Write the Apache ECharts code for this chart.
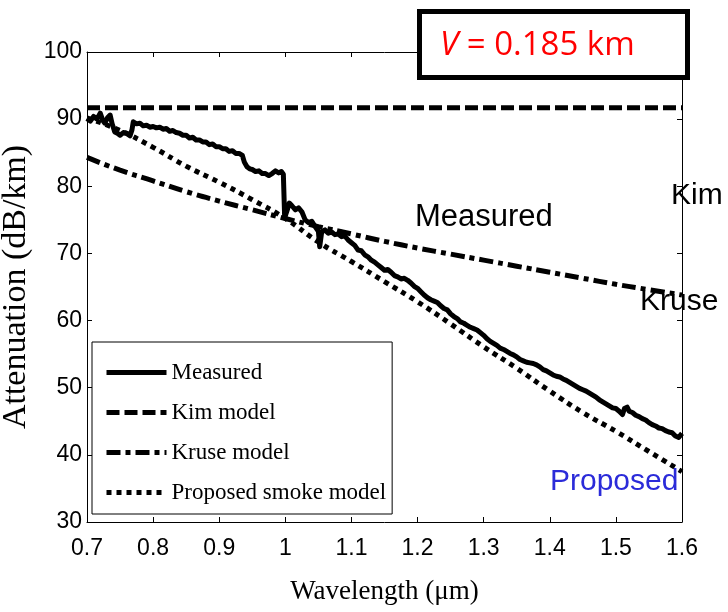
<!DOCTYPE html>
<html>
<head>
<meta charset="utf-8">
<script src="https://cdn.jsdelivr.net/npm/echarts@6/dist/echarts.min.js"></script>
<style>html,body{margin:0;padding:0;background:#fff}#c{width:728px;height:612px}</style>
</head>
<body>
<div id="c"></div>
<script>
// ---- data ----
const xTicks = [0.7, 0.8, 0.9, 1.0, 1.1, 1.2, 1.3, 1.4, 1.5, 1.6];
const yTicks = [30, 40, 50, 60, 70, 80, 90, 100];
const seriesNames = ['Measured', 'Kim model', 'Kruse model', 'Proposed smoke model'];

const measured = [
[0.700,90.1],[0.705,89.7],[0.710,90.4],[0.715,90.0],[0.720,90.9],[0.724,89.8],[0.727,89.4],[0.731,90.2],[0.735,90.6],[0.738,89.3],
[0.742,88.1],[0.746,87.9],[0.750,87.6],[0.755,88.0],[0.760,87.9],[0.765,87.5],[0.768,88.4],[0.770,89.6],[0.775,89.3],[0.780,89.4],
[0.785,89.0],[0.790,89.1],[0.795,88.8],[0.800,88.9],[0.805,88.7],[0.810,88.8],[0.815,88.5],[0.820,88.6],[0.825,88.2],[0.830,88.3],
[0.835,88.0],[0.840,87.9],[0.845,87.6],[0.850,87.6],[0.855,87.2],[0.860,87.3],[0.865,86.9],[0.870,86.9],[0.875,86.6],[0.880,86.6],
[0.885,86.2],[0.890,86.3],[0.895,85.9],[0.900,85.9],[0.905,85.6],[0.910,85.6],[0.915,85.2],[0.920,85.3],[0.925,84.9],[0.930,84.9],
[0.935,84.6],[0.938,83.6],[0.942,82.9],[0.946,82.6],[0.950,82.5],[0.955,82.2],[0.960,82.3],[0.965,81.9],[0.970,81.9],[0.975,81.6],
[0.980,81.9],[0.985,82.3],[0.990,82.0],[0.994,82.2],[0.997,81.8],[0.999,75.3],[1.003,76.5],[1.006,77.5],[1.010,77.1],[1.015,76.5],
[1.020,76.8],[1.025,76.2],[1.030,75.0],[1.035,74.6],[1.040,74.8],[1.045,74.0],[1.050,73.3],[1.052,71.0],[1.055,73.2],[1.060,73.5],
[1.065,73.0],[1.070,73.2],[1.075,72.8],[1.080,72.9],[1.085,72.5],[1.090,72.6],[1.095,72.0],[1.100,71.6],[1.105,71.2],[1.110,70.5],
[1.115,70.4],[1.120,69.8],[1.125,69.5],[1.130,69.0],[1.135,68.7],[1.140,68.3],[1.145,67.9],[1.150,67.5],[1.155,67.6],[1.160,67.2],
[1.165,66.7],[1.170,66.5],[1.175,66.2],[1.180,66.3],[1.185,66.0],[1.190,65.6],[1.195,65.1],[1.200,64.8],[1.205,64.3],[1.210,63.8],
[1.215,63.4],[1.220,63.1],[1.225,62.9],[1.230,62.7],[1.235,62.2],[1.240,61.8],[1.245,61.6],[1.250,61.0],[1.255,60.6],[1.260,60.3],
[1.265,59.8],[1.270,59.6],[1.275,59.3],[1.280,59.0],[1.285,58.8],[1.290,58.6],[1.295,58.2],[1.300,57.8],[1.305,57.3],[1.310,56.9],
[1.315,56.6],[1.320,56.3],[1.325,55.9],[1.330,55.7],[1.335,55.4],[1.340,55.1],[1.345,54.9],[1.350,54.6],[1.355,54.2],[1.360,54.0],
[1.365,53.8],[1.370,53.7],[1.375,53.6],[1.380,53.4],[1.385,53.1],[1.390,52.7],[1.395,52.5],[1.400,52.2],[1.405,51.9],[1.410,51.7],
[1.415,51.6],[1.420,51.3],[1.425,51.1],[1.430,50.8],[1.435,50.5],[1.440,50.2],[1.445,49.9],[1.450,49.7],[1.455,49.5],[1.460,49.2],
[1.465,48.9],[1.470,48.6],[1.475,48.2],[1.480,47.9],[1.485,47.6],[1.490,47.3],[1.495,47.0],[1.500,46.9],[1.505,46.5],[1.510,46.0],
[1.513,46.9],[1.517,47.1],[1.520,46.5],[1.525,46.3],[1.530,45.9],[1.535,45.7],[1.540,45.4],[1.545,45.2],[1.550,44.8],[1.555,44.5],
[1.560,44.3],[1.565,44.0],[1.570,43.9],[1.575,43.6],[1.580,43.4],[1.585,43.3],[1.590,42.8],[1.595,42.6],[1.600,43.2]
];
const kim = [[0.7, 91.7], [1.6, 91.7]];
const kruse = [
[0.70,84.3],[0.75,82.4],[0.80,80.8],[0.85,79.2],[0.90,77.8],[0.95,76.5],[1.00,75.2],[1.05,74.0],[1.10,72.9],[1.15,71.8],
[1.20,70.8],[1.25,69.9],[1.30,69.0],[1.35,68.1],[1.40,67.2],[1.45,66.3],[1.50,65.4],[1.55,64.6],[1.60,63.8]
];
const proposed = [
[0.70,90.2],[0.75,88.3],[0.80,85.8],[0.85,83.0],[0.90,80.6],[0.95,78.0],[1.00,75.2],[1.05,71.7],[1.10,68.8],[1.15,65.8],
[1.20,62.8],[1.25,59.5],[1.30,56.1],[1.35,52.9],[1.40,49.5],[1.45,46.3],[1.50,43.5],[1.55,40.5],[1.60,37.5]
];

const chart = echarts.init(document.getElementById('c'), null, {renderer: 'canvas'});
const tickFont = "'Liberation Sans Narrow','Arial Narrow','Liberation Sans',sans-serif";
const serif = "'Liberation Serif','Times New Roman',serif";
const sans = "'Liberation Sans',Arial,sans-serif";

function xAxisBase(pos, showLabel) {
  return {
    type: 'value', position: pos, min: xTicks[0], max: xTicks[xTicks.length - 1], interval: 0.1,
    axisLine: {show: true, onZero: false, lineStyle: {color: '#000', width: 1}},
    axisTick: {show: true, inside: true, length: 5, lineStyle: {color: '#000'}},
    splitLine: {show: false},
    axisLabel: {show: showLabel, color: '#000', fontFamily: tickFont, fontSize: 23, margin: 15,
      formatter: v => (Math.round(v * 10) / 10).toString()}
  };
}
function yAxisBase(pos, showLabel) {
  return {
    type: 'value', position: pos, min: yTicks[0], max: yTicks[yTicks.length - 1], interval: 10,
    axisLine: {show: true, onZero: false, lineStyle: {color: '#000', width: 1}},
    axisTick: {show: true, inside: true, length: 5, lineStyle: {color: '#000'}},
    splitLine: {show: false},
    axisLabel: {show: showLabel, color: '#000', fontFamily: tickFont, fontSize: 23, margin: 5}
  };
}

const xa0 = xAxisBase('bottom', true);
xa0.name = 'Wavelength (μm)';
xa0.nameLocation = 'middle';
xa0.nameGap = 56;
xa0.nameTextStyle = {fontFamily: serif, fontSize: 27, color: '#000'};
const ya0 = yAxisBase('left', true);
ya0.name = 'Attenuation (dB/km)';
ya0.nameLocation = 'middle';
ya0.nameGap = 50;
ya0.nameTextStyle = {fontFamily: serif, fontSize: 34, color: '#000'};

chart.setOption({
  animation: false,
  backgroundColor: '#fff',
  grid: {left: 87, right: 46, top: 52, bottom: 90, show: false, containLabel: false, outerBoundsMode: 'none'},
  xAxis: [xa0, xAxisBase('top', false)],
  yAxis: [ya0, yAxisBase('right', false)],
  legend: {
    orient: 'vertical', left: 92, top: 342, itemWidth: 60, itemHeight: 12, itemGap: 17,
    padding: [19, 6, 10, 12], backgroundColor: '#fff', borderColor: '#000', borderWidth: 1, borderRadius: 0,
    textStyle: {fontFamily: serif, fontSize: 23, color: '#000'},
    itemStyle: {opacity: 0, borderWidth: 0},
    lineStyle: {width: 5},
    data: seriesNames
  },
  series: [
    {name: seriesNames[0], type: 'line', data: measured, showSymbol: false, symbol: 'none',
      lineStyle: {color: '#000', width: 5, type: 'solid', join: 'round'}, itemStyle: {color: '#000'}},
    {name: seriesNames[1], type: 'line', data: kim, showSymbol: false, symbol: 'none',
      lineStyle: {color: '#000', width: 5, type: [13, 5], cap: 'butt'}, itemStyle: {color: '#000'}},
    {name: seriesNames[2], type: 'line', data: kruse, smooth: true, showSymbol: false, symbol: 'none',
      lineStyle: {color: '#000', width: 5, type: [14, 5, 5, 5], cap: 'butt'}, itemStyle: {color: '#000'}},
    {name: seriesNames[3], type: 'line', data: proposed, smooth: true, showSymbol: false, symbol: 'none',
      lineStyle: {color: '#000', width: 5, type: [5, 5], cap: 'butt'}, itemStyle: {color: '#000'}}
  ],
  graphic: [
    {type: 'rect', left: 417, top: 9, z: 100,
      shape: {width: 268, height: 66}, style: {fill: '#fff', stroke: '#000', lineWidth: 5}},
    {type: 'text', left: 440, top: 29, z: 101,
      style: {text: '{i|V} = 0.185 km', fill: '#ff0000', font: "33px 'Open Sans', sans-serif",
        rich: {i: {fontStyle: 'italic', fontSize: 33, fontFamily: "'Open Sans', sans-serif", fill: '#ff0000', color: '#ff0000'}}}},
    {type: 'text', left: 671, top: 181, z: 50, style: {text: 'Kim', fill: '#000', font: "30px " + sans}},
    {type: 'text', left: 415, top: 202, z: 50, style: {text: 'Measured', fill: '#000', font: "31px " + sans}},
    {type: 'text', left: 640, top: 287, z: 50, style: {text: 'Kruse', fill: '#000', font: "30px " + sans}},
    {type: 'text', left: 550, top: 467, z: 50, style: {text: 'Proposed', fill: '#2b2bd9', font: "30px " + sans}}
  ]
});
</script>
</body>
</html>
